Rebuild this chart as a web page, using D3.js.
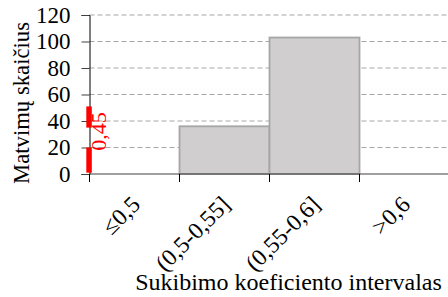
<!DOCTYPE html>
<html>
<head>
<meta charset="utf-8">
<script src="https://cdn.jsdelivr.net/npm/d3@7"></script>
<style>
  html, body { margin: 0; padding: 0; background: #fff; }
  text { font-family: "Liberation Serif", "Times New Roman", serif; }
</style>
</head>
<body>
<svg id="chart" width="448" height="297"></svg>
<script>
const categories = ["≤0,5", "(0,5-0,55]", "(0,55-0,6]", ">0,6"];
const counts = [0, 36, 103, 0];
const yTicks = [0, 20, 40, 60, 80, 100, 120];
const yTitle = "Matvimų skaičius";
const xTitle = "Sukibimo koeficiento intervalas";
const markerLabel = "0,45";
const markerSegments = [[1, 20], [35, 51]];
const markerLabelValue = 32;

const svg = d3.select("#chart");
const mLeft = 89.5, mRight = 449.5, mTop = 15, mBottom = 174;

const x = d3.scaleBand().domain(categories).range([mLeft, mRight]).padding(0);
const y = d3.scaleLinear().domain([0, 120]).range([mBottom, mTop]);

// gridlines
svg.append("g").selectAll("line").data(yTicks.filter(d => d > 0)).join("line")
  .attr("x1", mLeft).attr("x2", 448)
  .attr("y1", d => y(d)).attr("y2", d => y(d))
  .attr("stroke", "#a6a6a6").attr("stroke-width", 1)
  .attr("stroke-dasharray", "5,3");

// bars
svg.append("g").selectAll("rect").data(categories.map((c, i) => ({c, v: counts[i]})).filter(d => d.v > 0)).join("rect")
  .attr("x", d => x(d.c)).attr("width", x.bandwidth())
  .attr("y", d => y(d.v)).attr("height", d => y(0) - y(d.v))
  .attr("fill", "#d0cece").attr("stroke", "#a6a6a6").attr("stroke-width", 1.8);

// y axis
const yAxis = d3.axisLeft(y).tickValues(yTicks).tickSize(8).tickPadding(11).tickFormat(d3.format("d"));
const gy = svg.append("g").attr("transform", `translate(${mLeft},0)`).call(yAxis);
gy.select(".domain").attr("stroke", "#000").attr("stroke-width", 1);
gy.selectAll(".tick line").attr("stroke", "#404040");
gy.selectAll(".tick text").attr("font-size", 23).attr("fill", "#000");

// x axis
const gx = svg.append("g").attr("transform", `translate(0,${mBottom})`);
gx.append("line").attr("x1", mLeft).attr("x2", 448).attr("y1", 0).attr("y2", 0)
  .attr("stroke", "#404040").attr("stroke-width", 1.2);
gx.selectAll("line.tk").data(categories).join("line").attr("class", "tk")
  .attr("x1", d => x(d)).attr("x2", d => x(d)).attr("y1", 0).attr("y2", 8)
  .attr("stroke", "#000");
gx.selectAll("text").data(categories).join("text")
  .attr("transform", d => `translate(${x(d) + x.bandwidth() / 2 + 7},${32}) rotate(-45)`)
  .attr("text-anchor", "end")
  .attr("font-size", 23.5).attr("fill", "#000")
  .text(d => d);

// red marker annotation
svg.append("g").selectAll("rect").data(markerSegments).join("rect")
  .attr("x", mLeft - 3.2).attr("width", 5.5)
  .attr("y", d => y(d[1])).attr("height", d => y(d[0]) - y(d[1]))
  .attr("fill", "#ff0000");
svg.append("text")
  .attr("transform", `translate(${mLeft + 16},${y(markerLabelValue)}) rotate(-90)`)
  .attr("text-anchor", "middle").attr("font-size", 22).attr("fill", "#ff0000")
  .text(markerLabel);

// titles
svg.append("text")
  .attr("transform", `translate(29,103) rotate(-90)`)
  .attr("text-anchor", "middle").attr("font-size", 22.7).attr("fill", "#000")
  .text(yTitle);
svg.append("text")
  .attr("x", 288.5).attr("y", 290)
  .attr("text-anchor", "middle").attr("font-size", 24).attr("fill", "#000")
  .text(xTitle);
</script>
</body>
</html>
